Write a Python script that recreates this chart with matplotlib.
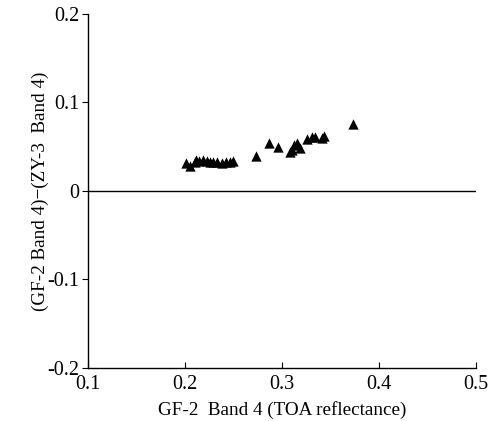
import matplotlib
matplotlib.use("Agg")
import matplotlib.pyplot as plt

x_vals = [0.201, 0.205, 0.210, 0.212, 0.215, 0.219, 0.223, 0.226, 0.229, 0.233,
          0.238, 0.242, 0.247, 0.250, 0.273, 0.287, 0.296, 0.308, 0.310, 0.313,
          0.316, 0.319, 0.326, 0.331, 0.334, 0.341, 0.343, 0.373]
y_vals = [0.032, 0.028, 0.033, 0.035, 0.034, 0.035, 0.034, 0.033, 0.033, 0.033,
          0.032, 0.033, 0.033, 0.034, 0.040, 0.054, 0.050, 0.044, 0.046, 0.052,
          0.054, 0.049, 0.059, 0.061, 0.061, 0.060, 0.062, 0.076]
x_ticks = [0.1, 0.2, 0.3, 0.4, 0.5]
y_ticks = [-0.2, -0.1, 0.0, 0.1, 0.2]
x_ticklabels = ["0.1", "0.2", "0.3", "0.4", "0.5"]
y_ticklabels = ["-0.2", "-0.1", "0", "0.1", "0.2"]

plt.rcParams['font.family'] = ['Liberation Serif', 'DejaVu Serif']

fig = plt.figure(figsize=(4.91, 4.21), dpi=100)
ax = fig.add_axes([0.179, 0.126, 0.79, 0.841])
ax.scatter(x_vals, y_vals, marker='^', s=55, color='black', linewidths=0, zorder=3)
ax.axhline(0, color='black', lw=1.0)
ax.set_xlim(0.1, 0.5)
ax.set_ylim(-0.2, 0.2)
ax.set_xticks(x_ticks)
ax.set_xticklabels(x_ticklabels)
ax.set_yticks(y_ticks)
ax.set_yticklabels(y_ticklabels)
for s in ['top', 'right']:
    ax.spines[s].set_visible(False)
for s in ['left', 'bottom']:
    ax.spines[s].set_linewidth(1.0)
ax.tick_params(axis='x', direction='in', length=4, labelsize=14.5, pad=5)
ax.tick_params(axis='y', direction='out', length=4, labelsize=14.5, pad=2)
ax.set_xlabel('GF-2  Band 4 (TOA reflectance)', fontsize=13.8, labelpad=5)
ax.set_ylabel('(GF-2 Band 4)\u2212(ZY-3  Band 4)', fontsize=13.8)
ax.yaxis.set_label_coords(-0.10, 0.5)
fig.savefig('out.png', dpi=100)
